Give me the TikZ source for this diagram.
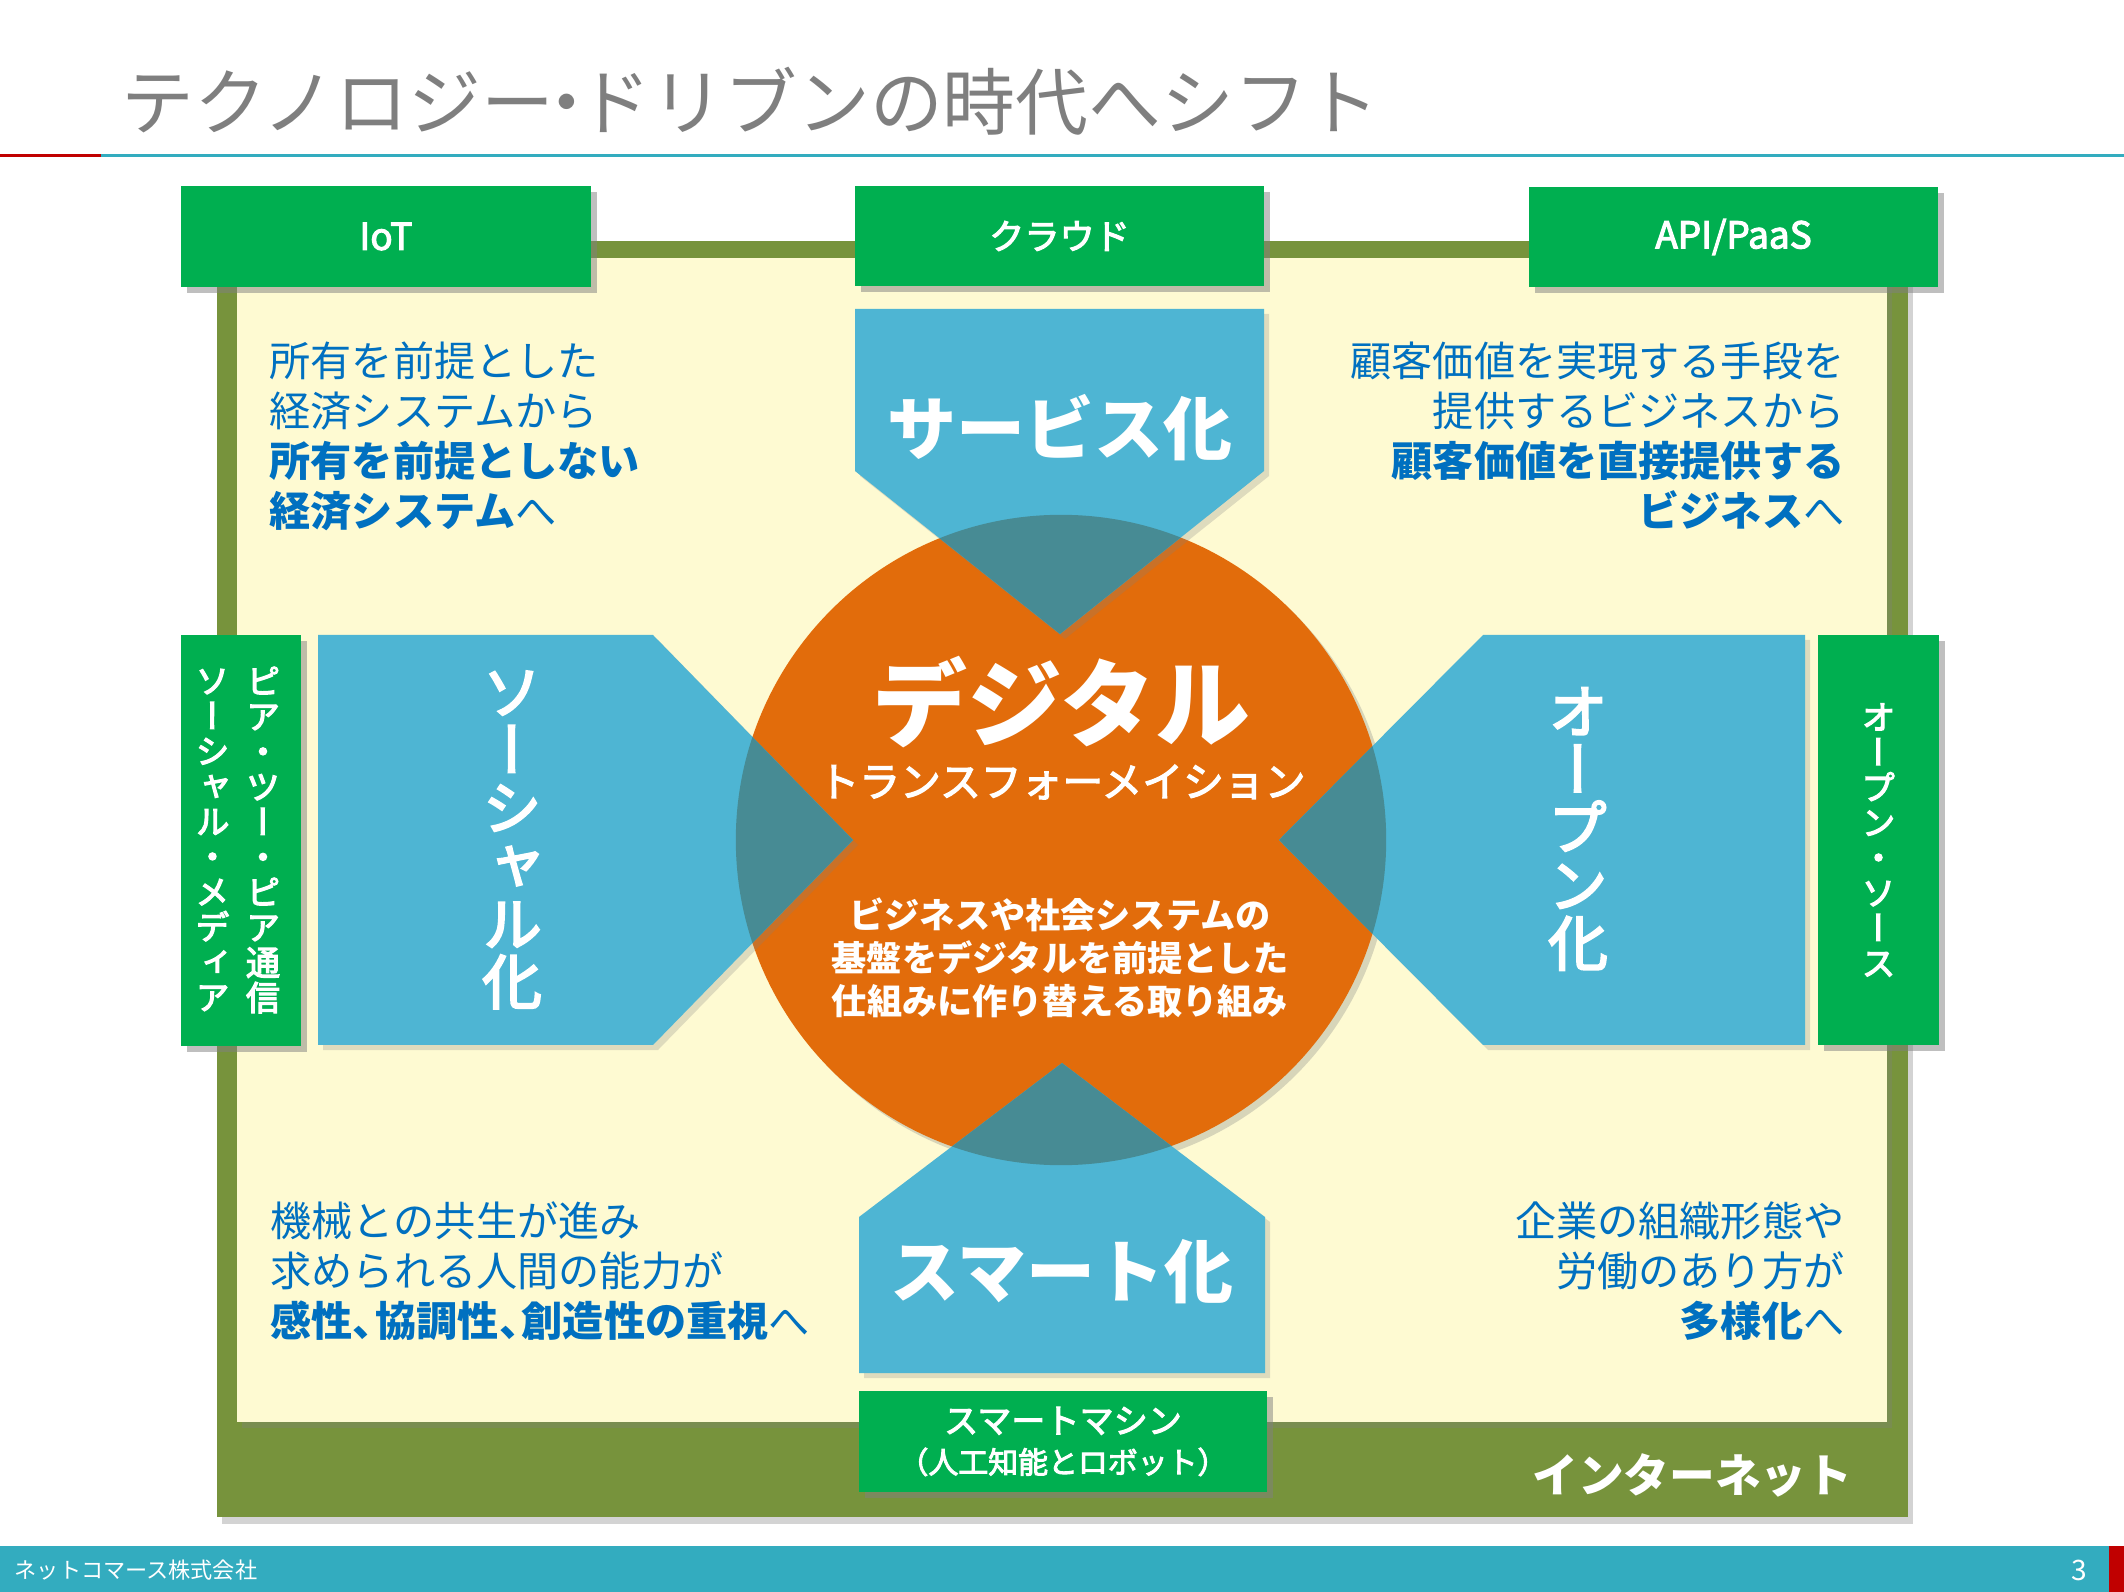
\documentclass[tikz,border=0pt]{standalone}
\usepackage{fontspec}
\setmainfont{Noto Sans CJK JP}
\newfontfamily\jpmid{Noto Sans CJK JP}[FakeBold=3]
\newfontfamily\jpvert{Noto Sans CJK JP}[RawFeature=+vert]
\newfontfamily\jpvertmid{Noto Sans CJK JP}[RawFeature=+vert,FakeBold=3.5]
\usetikzlibrary{shadows,positioning}
\lineskiplimit=-20pt

\definecolor{dxgreen}{HTML}{00AF50}
\definecolor{dxolive}{HTML}{77933C}
\definecolor{dxfield}{HTML}{FEFAD2}
\definecolor{dxblue}{HTML}{4EB5D3}
\definecolor{dxmix}{HTML}{478B94}
\definecolor{dxorange}{HTML}{E26C0B}
\definecolor{dxtext}{HTML}{0070C0}
\definecolor{dxgray}{HTML}{7F7F7F}
\definecolor{dxteal}{HTML}{33ACBF}
\definecolor{dxred}{HTML}{C00000}

% outlines of the four blue arrows
\newcommand\servicepath{(855,309) -- (1264,309) -- (1264,471) -- (1060,634) -- (855,471) -- cycle}
\newcommand\smartpath{(859,1373) -- (1265,1373) -- (1265,1217) -- (1062,1063) -- (859,1217) -- cycle}
\newcommand\socialpath{(318,635) -- (653,635) -- (853,840) -- (653,1045) -- (318,1045) -- cycle}
\newcommand\openpath{(1805,635) -- (1483,635) -- (1279,840) -- (1483,1045) -- (1805,1045) -- cycle}

\begin{document}
\begin{tikzpicture}[
        x=0.01cm, y=-0.01cm,
        greenbox/.style={
            fill=dxgreen,
            text=white,
            inner sep=0pt,
            drop shadow={shadow xshift=0.06cm, shadow yshift=-0.06cm, opacity=0.5}
        },
        blueshape/.style={
            fill=dxblue,
            drop shadow={shadow xshift=0.05cm, shadow yshift=-0.05cm, opacity=0.25}
        },
        lead/.style={
            text=dxtext,
            inner sep=0pt,
            font=\fontsize{11.7pt}{14.2pt}\selectfont
        },
        biglabel/.style={
            text=white,
            inner sep=0pt,
            font=\fontsize{19.6pt}{22pt}\selectfont\bfseries
        },
        vlabel/.style={
            text=white,
            align=center,
            inner sep=0pt,
            font=\jpvertmid\fontsize{17pt}{16.5pt}\selectfont
        },
        vsmall/.style={
            text=white,
            align=center,
            inner sep=0pt,
            font=\jpvertmid\fontsize{9.7pt}{10pt}\selectfont
        }
    ]
        \useasboundingbox (0,0) rectangle (2124,1592);

        % -- Title --
        \node [anchor=west, inner sep=0pt, text=dxgray, font=\fontsize{20.7pt}{24pt}\selectfont] (title) at (121,101) {テクノロジー\kern-0.33em・\kern-0.33emドリブンの時代へシフト};
        \draw [dxred, line width=0.03cm] (0,156) -- (101,156);
        \draw [dxteal, line width=0.03cm] (101,156) -- (2124,156);

        % -- Frame (internet) --
        \node [fill=dxolive, inner sep=0pt, minimum width=16.9cm, minimum height=12.76cm,
               drop shadow={shadow xshift=0.05cm, shadow yshift=-0.07cm, opacity=0.35}] (net) at (1062,879) {};
        \node [fill=dxfield, inner sep=0pt, minimum width=16.49cm, minimum height=11.64cm,
               drop shadow={shadow xshift=0.05cm, shadow yshift=-0.06cm, opacity=0.3}] (field) at (1061.5,840) {};
        \node [anchor=east, text=white, inner sep=0pt, font=\fontsize{13pt}{15pt}\selectfont\bfseries] (internet) at (1853,1475) {インターネット};

        % -- Green labels --
        \node [greenbox, minimum width=4.1cm, minimum height=1.01cm, font=\jpmid\fontsize{10.5pt}{12pt}\selectfont] (iot) at (386,236.5) {IoT};
        \node [greenbox, minimum width=4.09cm, minimum height=1.0cm, font=\jpmid\fontsize{10pt}{12pt}\selectfont] (cloud) at (1059.5,236) {クラウド};
        \node [greenbox, minimum width=4.09cm, minimum height=1.0cm, font=\jpmid\fontsize{10.5pt}{12pt}\selectfont] (api) at (1733.5,237) {API/PaaS};
        \node [greenbox, minimum width=1.2cm, minimum height=4.11cm] (p2p) at (241,840.5) {};
        \node [vsmall] (p2ptext) at (263,840) {ピ\\ア\\・\\ツ\\ー\\・\\ピ\\ア\\通\\信};
        \node [vsmall, left=0.15cm of p2ptext] (media) {ソ\\ー\\シ\\ャ\\ル\\・\\メ\\デ\\ィ\\ア};
        \node [greenbox, minimum width=1.21cm, minimum height=4.1cm] (oss) at (1878.5,840) {};
        \node [vsmall] (osstext) at (oss.center) {オ\\ー\\プ\\ン\\・\\ソ\\ー\\ス};
        \node [greenbox, minimum width=4.08cm, minimum height=1.01cm, align=center,
               font=\jpmid\fontsize{9.7pt}{11.4pt}\selectfont] (machine) at (1063,1441.5)
               {スマートマシン\\{\fontsize{8.5pt}{11.4pt}\selectfont（人工知能とロボット）}};

        % -- Digital transformation circle --
        \node [circle, fill=dxorange, minimum size=6.5cm, inner sep=0pt,
               drop shadow={shadow xshift=0.05cm, shadow yshift=-0.05cm, opacity=0.3}] (dx) at (1061,840) {};

        % -- Blue arrows --
        \fill [blueshape] \servicepath;
        \fill [blueshape] \smartpath;
        \fill [blueshape] \socialpath;
        \fill [blueshape] \openpath;
        \begin{scope}
            \clip (dx.center) circle [radius=3.25cm];
            \fill [dxmix] \servicepath;
            \fill [dxmix] \smartpath;
            \fill [dxmix] \socialpath;
            \fill [dxmix] \openpath;
        \end{scope}

        \node [biglabel] (service) at (1060,428) {サービス化};
        \node [biglabel] (smart) at (1062,1272) {スマート化};
        \node [vlabel] (social) at (512,840) {ソ\\ー\\シ\\ャ\\ル\\化};
        \node [vlabel] (open) at (1578,829) {オ\\ー\\プ\\ン\\化};

        % -- Circle texts --
        \node [text=white, inner sep=0pt, font=\fontsize{27pt}{30pt}\selectfont\bfseries] (digital) at (1061,702) {デジタル};
        \node [text=white, inner sep=0pt, font=\jpmid\fontsize{11.6pt}{14pt}\selectfont] (trans) at (1062,782) {トランスフォーメイション};
        \node [text=white, inner sep=0pt, align=center, font=\fontsize{10pt}{12.2pt}\selectfont\bfseries] (meaning) at (1060,958)
              {ビジネスや社会システムの\\基盤をデジタルを前提とした\\仕組みに作り替える取り組み};

        % -- Corner texts --
        \node [lead, anchor=north west, align=left] (owning) at (269,341)
              {所有を前提とした\\経済システムから\\\textbf{所有を前提としない}\\\textbf{経済システム}へ};
        \node [lead, anchor=north east, align=right] (value) at (1845,341)
              {顧客価値を実現する手段を\\提供するビジネスから\\\textbf{顧客価値を直接提供する}\\\textbf{ビジネス}へ};
        \node [lead, anchor=north west, align=left] (symbiosis) at (270,1201)
              {機械との共生が進み\\求められる人間の能力が\\\textbf{感性、\kern-0.45em協調性、\kern-0.45em創造性の重視}へ};
        \node [lead, anchor=north east, align=right] (work) at (1845,1201)
              {企業の組織形態や\\労働のあり方が\\\textbf{多様化}へ};

        % -- Footer --
        \fill [dxteal] (0,1546) rectangle (2124,1592);
        \fill [dxred] (2109,1546) rectangle (2124,1592);
        \node [anchor=west, text=white, inner sep=0pt, font=\fontsize{6.3pt}{8pt}\selectfont] (company) at (14,1570) {ネットコマース株式会社};
        \node [text=white, inner sep=0pt, font=\fontsize{8pt}{10pt}\selectfont] (page) at (2079,1570) {3};

    \end{tikzpicture}
\end{document}
